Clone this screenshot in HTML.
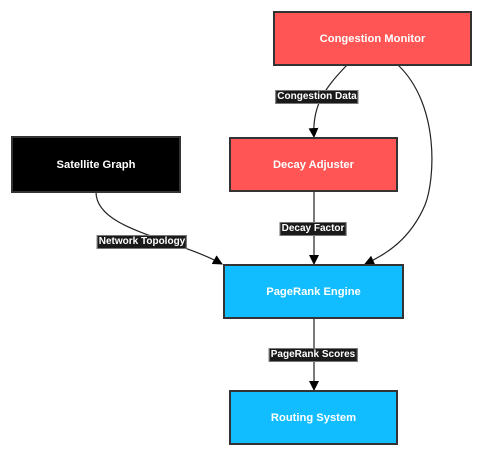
<!DOCTYPE html>
<html><head><style>
body{margin:0;background:#fff;width:482px;height:455px;overflow:hidden;position:relative;font-family:"Liberation Sans",Arial,sans-serif}
.n{position:absolute;box-sizing:border-box;border:2px solid #333;display:flex;align-items:center;justify-content:center;color:#fff;font-size:11.2px;font-weight:bold}
.l{position:absolute;background:#1a1a1a;border:1px solid #777;color:#fff;font-size:10px;font-weight:bold;padding:0 1px;line-height:12px;transform:translate(-50%,-50%);white-space:nowrap}
</style></head><body>
<svg width="482" height="455" style="position:absolute;left:0;top:0">
<defs><marker id="a" markerWidth="10" markerHeight="10" refX="9" refY="5" orient="auto" markerUnits="userSpaceOnUse"><path d="M0,0L10,5L0,10z" fill="#000"/></marker></defs>
<g fill="none" stroke="#222" stroke-width="1.2">
<path d="M347,65 C325,88 312,105 314,137" marker-end="url(#a)"/>
<path d="M398,65 C440,105 435,180 425,205 C410,240 385,255 365,264" marker-end="url(#a)"/>
<path d="M96,192 C96,230 175,238 222,264" marker-end="url(#a)"/>
<path d="M314,192 L314,264" marker-end="url(#a)"/>
<path d="M314,318 L314,390" marker-end="url(#a)"/>
</g></svg>
<div class="n" style="left:273px;top:11px;width:199px;height:55px;background:#ff5555">Congestion Monitor</div>
<div class="n" style="left:11px;top:136px;width:170px;height:57px;background:#000">Satellite Graph</div>
<div class="n" style="left:229px;top:137px;width:169px;height:55px;background:#ff5555">Decay Adjuster</div>
<div class="n" style="left:223px;top:264px;width:181px;height:55px;background:#12bdff">PageRank Engine</div>
<div class="n" style="left:229px;top:390px;width:169px;height:55px;background:#12bdff">Routing System</div>
<div class="l" style="left:317px;top:97px">Congestion Data</div>
<div class="l" style="left:313px;top:229px">Decay Factor</div>
<div class="l" style="left:142px;top:242px">Network Topology</div>
<div class="l" style="left:313px;top:355px">PageRank Scores</div>
</body></html>
